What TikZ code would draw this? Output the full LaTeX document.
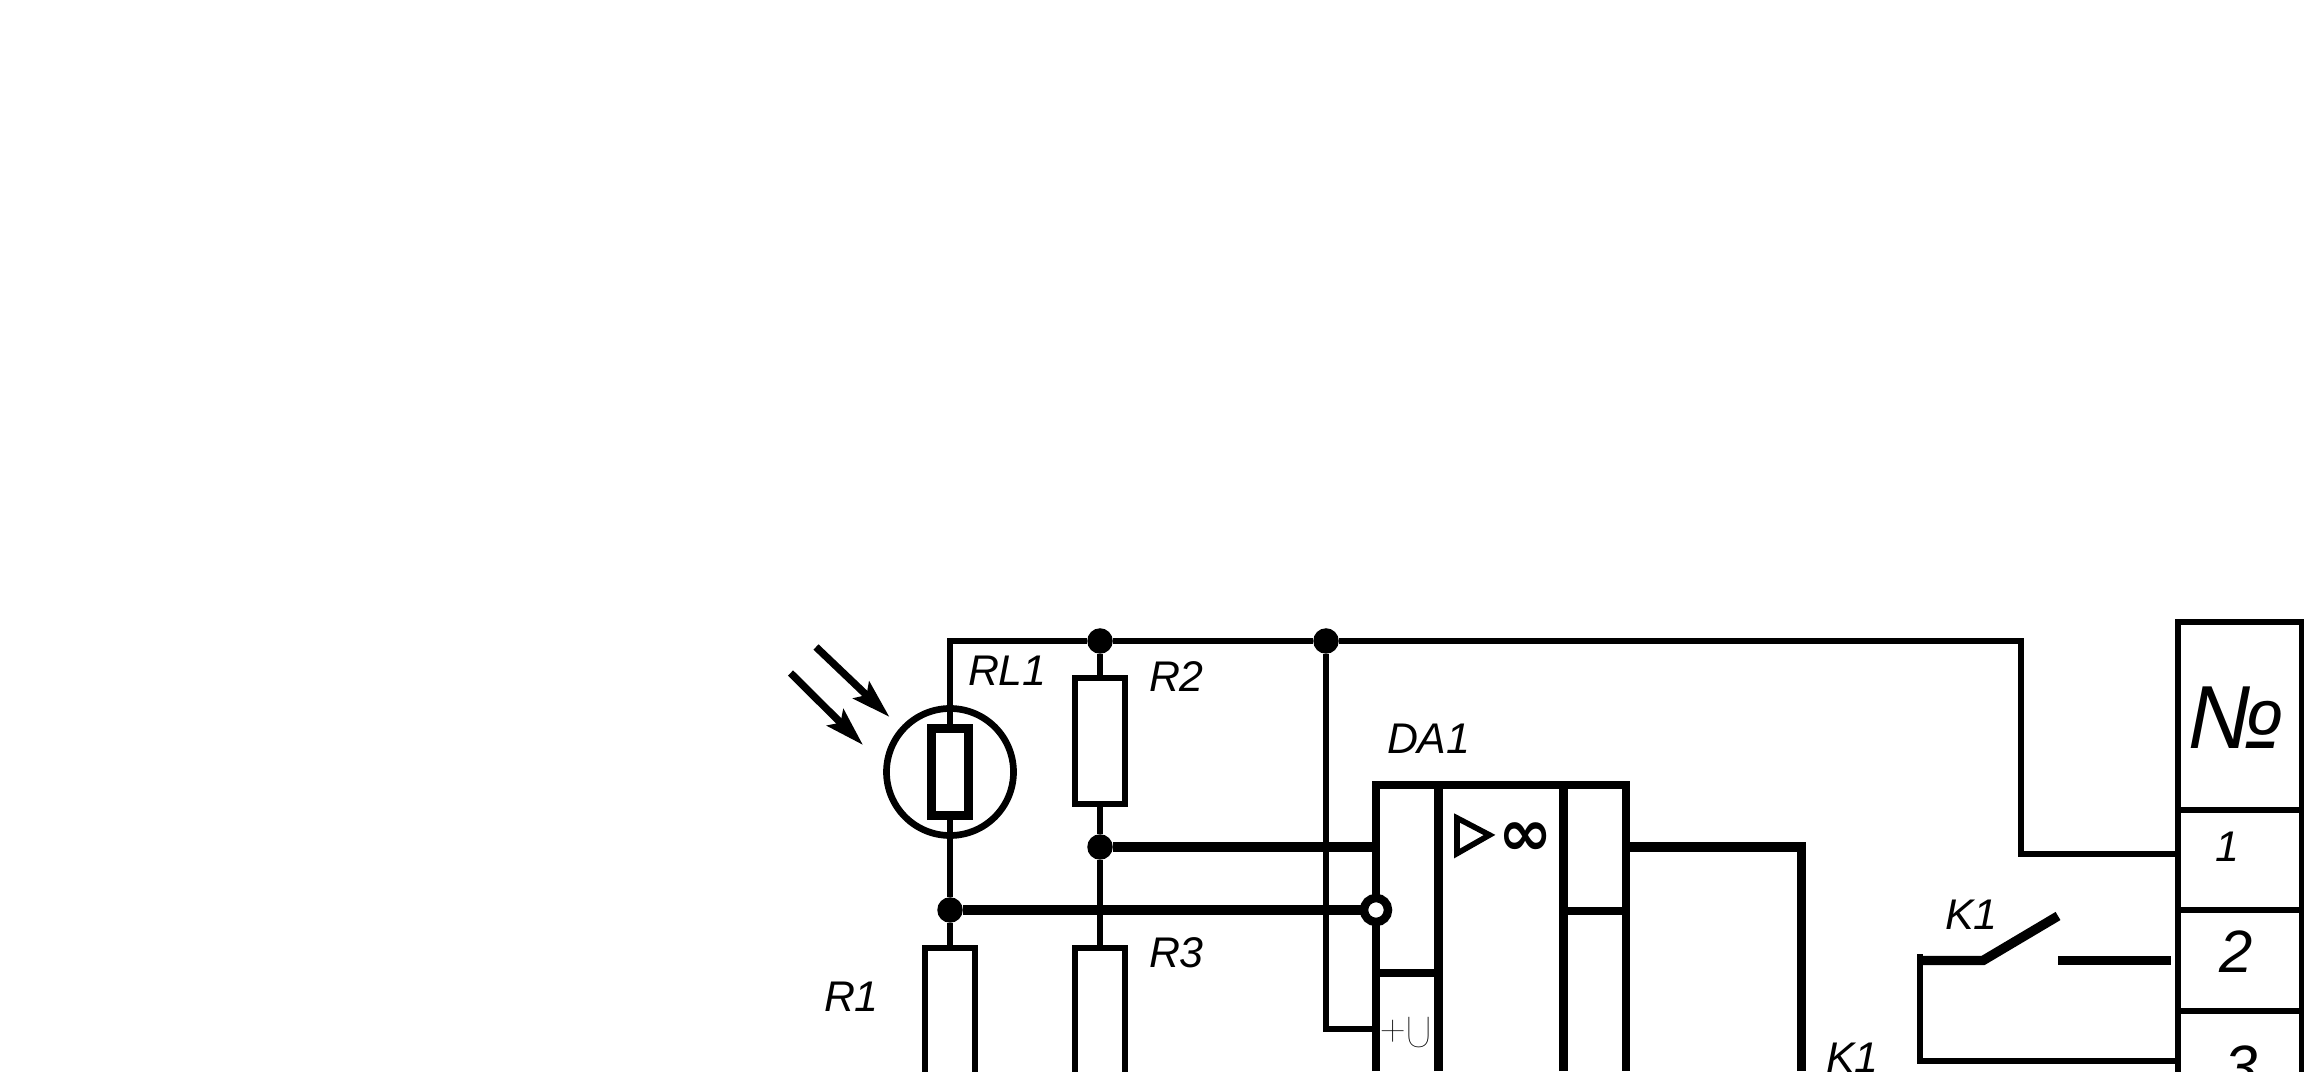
\documentclass[tikz,border=0pt]{standalone}
\usepackage{fontspec}
\setmainfont{Liberation Sans}
\newfontfamily\symfont{DejaVu Sans}
\newfontfamily\thinfont[UprightFont=* Thin]{Poppins}
\usetikzlibrary{arrows.meta}
\tikzset{
 every node/.style={outer sep=0pt},
 wire/.style={line width=1.7pt},
 buswire/.style={line width=2.7pt},
 frame/.style={line width=2.4pt},
 res/.style={draw,line width=1.7pt,fill=white,inner sep=0pt,minimum width=.5cm,minimum height=1.26cm},
 cell/.style={draw,line width=1.7pt,inner sep=0pt,minimum width=1.24cm},
 dot/.style={circle,fill=black,inner sep=0pt,minimum size=.255cm},
 lbl/.style={anchor=base west,inner sep=0pt,font=\fontsize{12.2}{14}\selectfont\itshape},
 lightray/.style={line width=2.1pt,-{Stealth[length=11pt,width=6.5pt,inset=2pt]}}
}
\begin{document}
\begin{tikzpicture}
 \useasboundingbox (0,0) rectangle (23.04,10.71);
 \clip (0,0) rectangle (23.04,10.71);
 \fill[white] (0,0) rectangle (23.04,10.71);

 % junctions and parts
 \coordinate (topleft) at (9.5,4.3);
 \coordinate (topright) at (20.21,4.3);
 \node[dot] (jA) at (11,4.3) {};
 \node[dot] (jB) at (13.26,4.3) {};
 \node[dot] (jC) at (11,2.24) {};
 \node[dot] (jD) at (9.5,1.61) {};
 \node[res] (R2) at (11,3.3) {};
 \node[res,minimum height=1.3cm] (R3) at (11,.58) {};
 \node[res,minimum height=1.3cm] (R1) at (9.5,.58) {};
 \node[draw,fill=white,line width=2.45pt,inner sep=0pt,minimum width=.37cm,minimum height=.875cm] (RL) at (9.5,2.99) {};
 \node[draw,circle,line width=1.9pt,inner sep=0pt,minimum size=1.27cm] (RLc) at (9.5,2.99) {};

 % light
 \coordinate (rayA) at (8.16,4.24);
 \coordinate (rayAt) at (8.895,3.54);
 \coordinate (rayB) at (7.905,3.98);
 \coordinate (rayBt) at (8.63,3.26);
 \draw[lightray] (rayA) -- (rayAt);
 \draw[lightray] (rayB) -- (rayBt);

 % supply line
 \draw[wire] (RL) -- (topleft) -- (jA);
 \draw[wire] (jA) -- (jB);
 \draw[wire] (RL) -- (jD);
 \draw[wire] (jD) -- (R1);
 \draw[wire] (jA) -- (R2);
 \draw[wire] (R2) -- (jC);
 \draw[wire] (jC) -- (R3);

 % amplifier
 \coordinate (inP) at (13.76,2.24);
 \coordinate (inU) at (13.76,.42);
 \coordinate (outA) at (16.26,2.24);
 \coordinate (outB) at (18.015,2.24);
 \coordinate (outC) at (18.015,0);
 \draw[frame] (13.76,0) -- (13.76,2.86) -- (16.26,2.86) -- (16.26,0);
 \draw[buswire] (14.385,0) -- (14.385,2.86);
 \draw[buswire] (15.635,0) -- (15.635,2.86);
 \draw[frame] (13.76,.98) -- (14.385,.98);
 \draw[frame] (15.635,1.6) -- (16.26,1.6);
 \draw[line width=1.6pt] (14.57,2.53) -- (14.895,2.36) -- (14.57,2.175) -- cycle;
 \node[inner sep=0pt,font=\symfont\bfseries\fontsize{18.5}{18.5}\selectfont] (inf) at (15.26,2.32) {∞};
 \node[draw,circle,fill=white,frame,inner sep=0pt,minimum size=.24cm] (inv) at (13.76,1.61) {};
 \draw[buswire] (jC) -- (inP);
 \draw[buswire] (jD) -- (inv);
 \draw[wire] (jB) |- (inU);
 \draw[buswire] (outA) -- (outB) -- (outC);

 % terminal column
 \node[cell,minimum height=1.88cm] (cellNo) at (22.395,3.55) {};
 \node[cell,minimum height=1cm] (cell1) at (22.395,2.11) {};
 \node[cell,minimum height=1.01cm] (cell2) at (22.395,1.105) {};
 \node[cell,minimum height=1cm] (cell3) at (22.395,.1) {};

 % contact
 \coordinate (kA) at (19.2,.1);
 \coordinate (kB) at (19.2,1.17);
 \coordinate (kC) at (19.2,1.105);
 \coordinate (kD) at (19.83,1.105);
 \coordinate (kE) at (20.58,1.55);
 \coordinate (kF) at (20.58,1.105);
 \coordinate (kG) at (21.71,1.105);
 \coordinate (one) at (21.775,2.17);
 \draw[wire] (jB) -- (topright) -- (topright |- one) -- (one);
 \draw[wire] (cell3.west) -- (kA) -- (kB);
 \draw[buswire] (kC) -- (kD) -- (kE);
 \draw[buswire] (kF) -- (kG);

 % labels
 \node[lbl] (tRL) at (9.68,3.855) {RL1};
 \node[lbl] (tR2) at (11.49,3.795) {R2};
 \node[lbl] (tR3) at (11.49,1.035) {R3};
 \node[lbl] (tR1) at (8.24,.595) {R1};
 \node[lbl] (tDA) at (13.87,3.175) {DA1};
 \node[lbl] (tKa) at (19.45,1.415) {K1};
 \node[lbl] (tKb) at (18.26,-.01) {K1};
 \node[lbl,font=\thinfont\fontsize{12.2}{14}\selectfont] (tU) at (13.8,.24) {+U};
 \node[lbl,font=\fontsize{25.5}{25.5}\selectfont\itshape] (tNo) at (21.87,3.22) {№};
 \node[lbl] (t1) at (22.15,2.09) {1};
 \node[lbl,font=\fontsize{17}{17}\selectfont\itshape] (t2) at (22.19,.98) {2};
 \node[lbl,font=\fontsize{17}{17}\selectfont\itshape] (t3) at (22.24,-.16) {3};
\end{tikzpicture}
\end{document}
